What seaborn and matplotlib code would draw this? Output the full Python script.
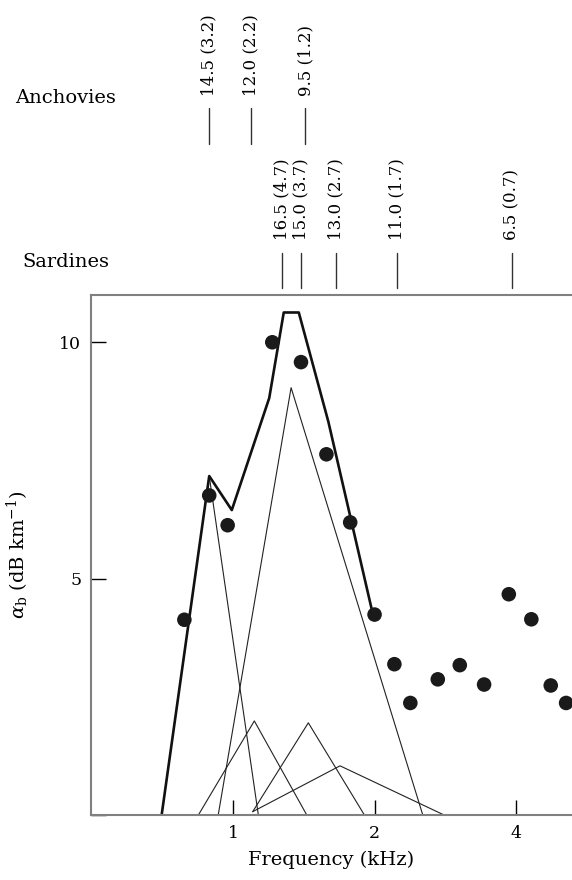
import matplotlib
matplotlib.use("Agg")
import matplotlib.pyplot as plt
import seaborn as sns

# ==========================
# 1. Data
# ==========================

# measured attenuation (dots)
dot_freq = [0.788, 0.890, 0.974, 1.212, 1.395, 1.580, 1.775, 2.00, 2.204,
            2.383, 2.726, 3.036, 3.42, 3.86, 4.31, 4.74, 5.11]
dot_alpha = [4.13, 6.76, 6.13, 10.0, 9.58, 7.63, 6.19, 4.24, 3.19,
             2.37, 2.87, 3.17, 2.76, 4.67, 4.14, 2.74, 2.37]

# summed model (thick line)
total_freq = [0.705, 0.890, 0.994, 1.194, 1.282, 1.380, 1.595, 1.981]
total_alpha = [0.0, 7.17, 6.45, 8.82, 10.63, 10.63, 8.32, 4.27]

# single-class contributions (thin triangles)
comp_freq = [
    [0.705, 0.890, 1.132],
    [0.930, 1.329, 2.533],
    [0.844, 1.110, 1.435],
    [1.101, 1.446, 1.903],
    [1.101, 1.689, 2.811],
]
comp_alpha = [
    [0.0, 7.17, 0.0],
    [0.0, 9.04, 0.0],
    [0.0, 1.99, 0.0],
    [0.07, 1.95, 0.0],
    [0.07, 1.04, 0.0],
]

# resonance markers above the plot
anchovy_freq = [0.890, 1.091, 1.426]
anchovy_labels = ["14.5 (3.2)", "12.0 (2.2)", "9.5 (1.2)"]
sardine_freq = [1.269, 1.395, 1.656, 2.230, 3.917]
sardine_labels = ["16.5 (4.7)", "15.0 (3.7)", "13.0 (2.7)", "11.0 (1.7)", "6.5 (0.7)"]

x_ticks = [1, 2, 4]
y_ticks = [0, 5, 10]
y_ticklabels = ["", "5", "10"]

# ==========================
# 2. Style
# ==========================

sns.set_style("ticks")
plt.rcParams["font.family"] = ["DejaVu Serif"]
plt.rcParams["mathtext.fontset"] = "dejavuserif"
plt.rcParams["text.color"] = "black"
plt.rcParams["axes.labelcolor"] = "black"
plt.rcParams["xtick.color"] = "black"
plt.rcParams["ytick.color"] = "black"

fig = plt.figure(figsize=(5.72, 8.8), dpi=100)
ax = fig.add_axes([91 / 572, 1 - 815 / 880, 1 - 91 / 572, 520 / 880])

# ==========================
# 3. Plot
# ==========================

for fx, fy in zip(comp_freq, comp_alpha):
    sns.lineplot(x=fx, y=fy, ax=ax, color="#222222", linewidth=0.8,
                 sort=False, estimator=None)

sns.lineplot(x=total_freq, y=total_alpha, ax=ax, color="#111111",
             linewidth=1.9, sort=False, estimator=None)

sns.scatterplot(x=dot_freq, y=dot_alpha, ax=ax, color="#1a1a1a", s=110,
                edgecolor="none", zorder=5)

ax.set_xscale("log", base=2)
ax.set_xlim(0.4988, 5.26)
ax.set_ylim(0, 11)

ax.set_xticks(x_ticks)
ax.set_xticklabels([str(t) for t in x_ticks])
ax.xaxis.set_minor_locator(matplotlib.ticker.NullLocator())
ax.set_yticks(y_ticks)
ax.set_yticklabels(y_ticklabels)

ax.tick_params(direction="in", length=11, width=1.0, color="black",
               labelcolor="black", labelsize=12.5, pad=7)

for side in ["left", "bottom", "top"]:
    ax.spines[side].set_color("#808080")
    ax.spines[side].set_linewidth(1.5)
ax.spines["right"].set_visible(False)

ax.set_xlabel("Frequency (kHz)", fontsize=14, color="black")
ax.xaxis.set_label_coords(0.5, -0.068)
ax.set_ylabel(r"$\alpha_{\mathrm{b}}$ (dB km$^{-1}$)", fontsize=14, color="black")
ax.yaxis.set_label_coords(-0.125, 0.5)

# resonance markers
xt = ax.get_xaxis_transform()
for f, lab in zip(anchovy_freq, anchovy_labels):
    ax.plot([f, f], [1.2898, 1.359], transform=xt, color="#333333",
            lw=1.0, clip_on=False)
    ax.text(f, 1.3827, lab, transform=xt, rotation=90, ha="center",
            va="bottom", fontsize=12, color="black")
for f, lab in zip(sardine_freq, sardine_labels):
    ax.plot([f, f], [1.0129, 1.0802], transform=xt, color="#333333",
            lw=1.0, clip_on=False)
    ax.text(f, 1.1058, lab, transform=xt, rotation=90, ha="center",
            va="bottom", fontsize=12, color="black")

fig.text(15 / 572, 1 - 98 / 880, "Anchovies", fontsize=14, ha="left",
         va="center", color="black")
fig.text(22 / 572, 1 - 262 / 880, "Sardines", fontsize=14, ha="left",
         va="center", color="black")

fig.savefig("out.png", dpi=100)
